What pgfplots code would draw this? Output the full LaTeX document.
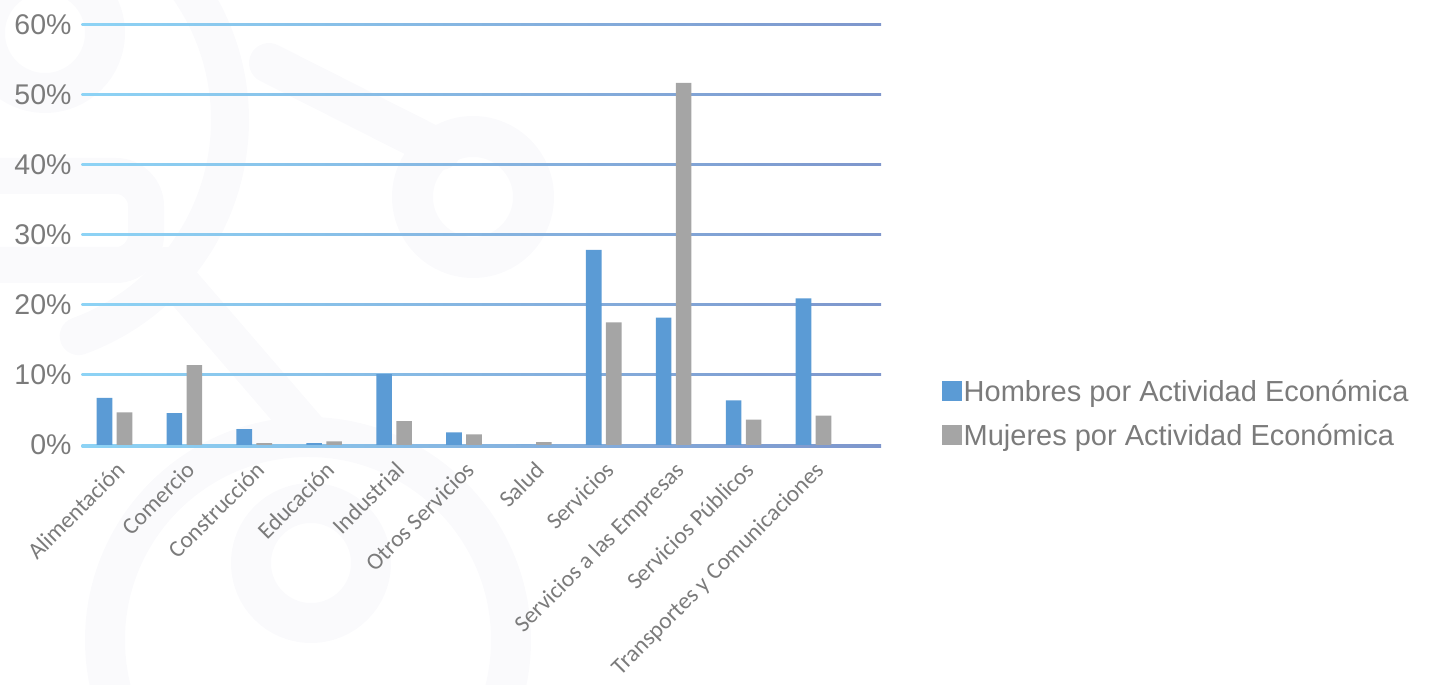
\documentclass[border=0pt]{standalone}
\usepackage{fontspec}
\setmainfont{Liberation Sans}
\newfontfamily\calibri{Carlito}
\usepackage{pgfplots}
\usepackage{pgfplotstable}
\pgfplotsset{compat=1.18}

\definecolor{barblue}{HTML}{5B9BD5}
\definecolor{bargray}{HTML}{A5A5A5}
\definecolor{txtgray}{HTML}{7B7B7B}
\definecolor{gridA}{HTML}{8DD3F5}
\definecolor{gridB}{HTML}{7E96CC}
\definecolor{wm}{HTML}{FAFAFC}

% share of workers by economic activity (%)
\pgfplotstableread{
idx hombres mujeres
0   6.72   4.65
1   4.54   11.40
2   2.28   0.28
3   0.26   0.50
4   10.10  3.42
5   1.80   1.52
6   0.00   0.41
7   27.84  17.49
8   18.19  51.70
9   6.37   3.61
10  20.92  4.18
}\actividad

\begin{document}
\begin{tikzpicture}[x=1pt,y=1pt]
\path[use as bounding box] (0,0) rectangle (1436,685);

% faint background emblem
\begin{scope}[draw=wm, line cap=round]
  \draw[line width=40] (45,652) circle (60);
  \draw[line width=41] (473,488) circle (60.5);
  \draw[line width=40] (311,122) circle (60);
  \draw[line width=38] (0,565) ++(-70:230) arc (-70:40:230);
  \draw[line width=40] (269,622) -- (441,535);
  \draw[line width=40] (166,418) -- (309,252);
  \draw[line width=40] (308,45) circle (203);
  \draw[line width=36, rounded corners=30] (-60,509) -- (146,509) -- (146,420) -- (-60,420);
\end{scope}

\begin{axis}[
  at={(81.7pt,240pt)}, anchor=south west,
  scale only axis, width=799.3pt, height=420.3pt,
  xmin=-0.469, xmax=10.966, ymin=0, ymax=60,
  clip=false,
  axis line style={draw=none},
  major tick length=0pt,
  ytick={0,10,...,60},
  yticklabels={0\%,10\%,20\%,30\%,40\%,50\%,60\%},
  yticklabel style={anchor=east, inner sep=0pt, xshift=-10pt,
    font=\fontsize{28.5}{30}\selectfont, text=txtgray},
  xtick={0,...,10},
  xticklabels={Alimentación, Comercio, Construcción, Educación, Industrial,
    Otros Servicios, Salud, Servicios, Servicios a las Empresas,
    Servicios Públicos, Transportes y Comunicaciones},
  xticklabel style={inner sep=0pt, anchor=north east, rotate=45,
    font=\calibri\fontsize{23.5}{24}\selectfont, text=txtgray},
  xticklabel shift=15pt,
  ybar=4.4pt, bar width=15.6pt,
  legend style={draw=none, fill=none, at={(1.0763,0.158)}, anchor=north west,
    inner sep=0pt, row sep=18pt,
    font=\fontsize{29}{30}\selectfont, text=txtgray,
    nodes={inner sep=1.5pt}},
  legend cell align=left,
  legend image code/.code={\fill[#1] (0pt,-9.5pt) rectangle (20pt,10.5pt);},
]
% gridlines with a left-to-right colour blend
\pgfplotsinvokeforeach{10,20,30,40,50,60}{
  \shade[left color=gridA, right color=gridB]
    ([yshift=-1pt]axis cs:-0.469,#1) rectangle ([yshift=1pt]axis cs:10.966,#1);
}
% category axis line, just below the bar bases
\shade[left color=gridA, right color=gridB]
  ([yshift=-2.8pt]axis cs:-0.469,0) rectangle ([yshift=0pt]axis cs:10.966,0);
\addplot[fill=barblue, draw=none] table[x=idx, y=hombres] {\actividad};
\addplot[fill=bargray, draw=none] table[x=idx, y=mujeres] {\actividad};
\legend{Hombres por Actividad Económica, Mujeres por Actividad Económica}
\end{axis}
\end{tikzpicture}
\end{document}
